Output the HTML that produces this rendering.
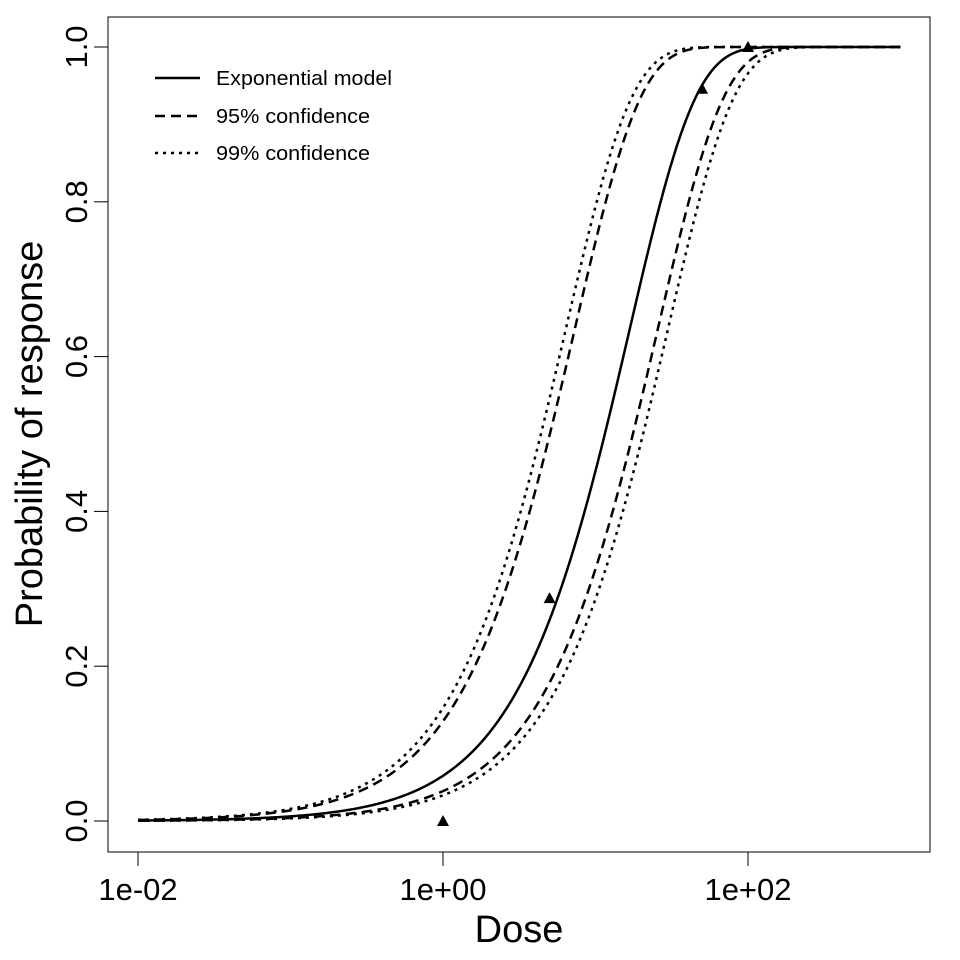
<!DOCTYPE html>
<html><head><meta charset="utf-8"><style>
html,body{margin:0;padding:0;background:#fff;width:960px;height:960px;overflow:hidden}
svg text{font-family:"Liberation Sans",Arial,sans-serif;fill:#000}
</style></head><body>
<svg id="chart" width="960" height="960" viewBox="0 0 960 960">
<rect x="108" y="17" width="822" height="835" fill="none" stroke="#000" stroke-width="1"/>
<g id="axes"></g>
<g id="series"></g>
<text x="519" y="942" font-size="38" text-anchor="middle">Dose</text>
<text transform="translate(42,434) rotate(-90)" font-size="38" text-anchor="middle">Probability of response</text>
<g>
<line x1="155" y1="78" x2="200" y2="78" stroke="#000" stroke-width="2.5"/>
<text x="216" y="85" font-size="20" textLength="176" lengthAdjust="spacingAndGlyphs">Exponential model</text>
<line x1="155" y1="116" x2="200" y2="116" stroke="#000" stroke-width="2.5" stroke-dasharray="10,6"/>
<text x="216" y="123" font-size="20" textLength="154" lengthAdjust="spacingAndGlyphs">95% confidence</text>
<line x1="155" y1="153" x2="200" y2="153" stroke="#000" stroke-width="2.5" stroke-dasharray="3,5"/>
<text x="216" y="160" font-size="20" textLength="154" lengthAdjust="spacingAndGlyphs">99% confidence</text>
</g>
</svg>
<script>
const xTicks = [0.01, 1, 100];
const xTickLabels = ["1e-02", "1e+00", "1e+02"];
const yTicks = [0, 0.2, 0.4, 0.6, 0.8, 1.0];
const yTickLabels = ["0.0", "0.2", "0.4", "0.6", "0.8", "1.0"];
const modelK = [0.0602];
const conf95K = [0.138, 0.0394];
const conf99K = [0.158, 0.0338];
const obsDose = [1, 5, 50, 100];
const obsResp = [0, 0.288, 0.946, 1.0];
const doseMin = 0.01, doseMax = 1000;

const NS = "http://www.w3.org/2000/svg";
function xs(d){ return 443 + (Math.log10(d) - 0) * 152.5; }
function ys(p){ return 821 - p * 774; }
function mk(tag, attrs, parent){ const e = document.createElementNS(NS, tag); for (const k in attrs) e.setAttribute(k, attrs[k]); parent.appendChild(e); return e; }
const axes = document.getElementById('axes');
const ser = document.getElementById('series');

const xa = mk('line', {x1: xs(xTicks[0]), x2: xs(xTicks[xTicks.length-1]), y1: 852, y2: 852, stroke: '#000'}, axes);


xTicks.forEach((t, i) => {
  const l = mk('line', {x1: xs(t), x2: xs(t), y1: 852, y2: 866, stroke: '#000'}, axes);
  
  
  const tx = mk('text', {x: xs(t), y: 900, 'font-size': 31, 'text-anchor': 'middle'}, axes);
  tx.textContent = xTickLabels[i];
  
  
});
const ya = mk('line', {x1: 108, x2: 108, y1: ys(yTicks[0]), y2: ys(yTicks[yTicks.length-1]), stroke: '#000'}, axes);


yTicks.forEach((t, i) => {
  const l = mk('line', {x1: 94, x2: 108, y1: ys(t), y2: ys(t), stroke: '#000'}, axes);
  
  
  const tx = mk('text', {transform: `translate(87,${ys(t)}) rotate(-90)`, 'font-size': 31, 'text-anchor': 'middle'}, axes);
  tx.textContent = yTickLabels[i];
  
  
});

function curve(k, dash, name){
  let d = '';
  const n = 400;
  for (let i = 0; i <= n; i++){
    const lg = Math.log10(doseMin) + (Math.log10(doseMax) - Math.log10(doseMin)) * i / n;
    const dose = Math.pow(10, lg);
    const p = 1 - Math.exp(-k * dose);
    d += (i ? 'L' : 'M') + xs(dose).toFixed(2) + ',' + ys(p).toFixed(2);
  }
  const path = mk('path', {d: d, fill: 'none', stroke: '#000', 'stroke-width': 2.5}, ser);
  if (dash) path.setAttribute('stroke-dasharray', dash);
  
  
}
curve(modelK[0], null, 'model-curve');
conf95K.forEach(k => curve(k, '10,6', 'confidence-95-curve'));
conf99K.forEach(k => curve(k, '3,5', 'confidence-99-curve'));

obsDose.forEach((dv, i) => {
  const x = xs(dv), y = ys(obsResp[i]);
  const tri = mk('polygon', {points: `${x-6},${y+5} ${x+6},${y+5} ${x},${y-6}`, fill: '#000'}, ser);
  
  
});
</script>
</body></html>
